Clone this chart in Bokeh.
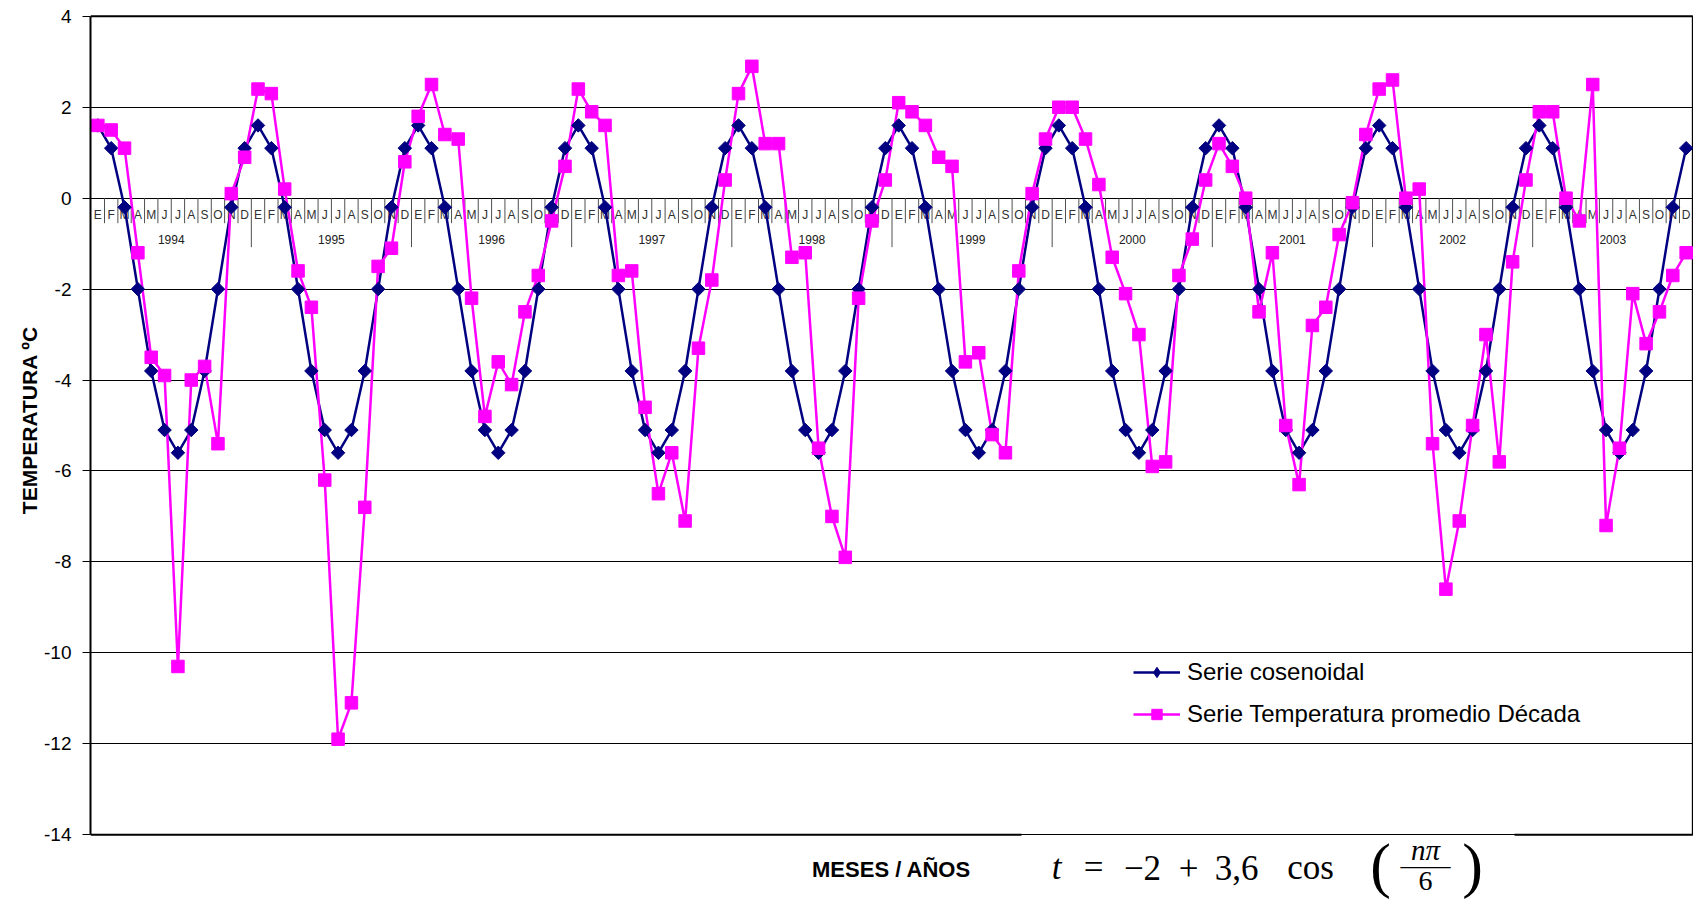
import math
from bokeh.plotting import figure
from bokeh.models import Range1d, FixedTicker, Legend, LegendItem
from bokeh.embed import file_html
from bokeh.resources import INLINE
from bokeh.core.properties import value

# ---------------- data ----------------
month_letters = ["E", "F", "M", "A", "M", "J", "J", "A", "S", "O", "N", "D"]
years = ["1994", "1995", "1996", "1997", "1998", "1999", "2000", "2001", "2002", "2003"]

serie_cosenoidal = [
    1.6, 1.1, -0.2, -2.0, -3.8, -5.1, -5.6, -5.1, -3.8, -2.0, -0.2, 1.1,
    1.6, 1.1, -0.2, -2.0, -3.8, -5.1, -5.6, -5.1, -3.8, -2.0, -0.2, 1.1,
    1.6, 1.1, -0.2, -2.0, -3.8, -5.1, -5.6, -5.1, -3.8, -2.0, -0.2, 1.1,
    1.6, 1.1, -0.2, -2.0, -3.8, -5.1, -5.6, -5.1, -3.8, -2.0, -0.2, 1.1,
    1.6, 1.1, -0.2, -2.0, -3.8, -5.1, -5.6, -5.1, -3.8, -2.0, -0.2, 1.1,
    1.6, 1.1, -0.2, -2.0, -3.8, -5.1, -5.6, -5.1, -3.8, -2.0, -0.2, 1.1,
    1.6, 1.1, -0.2, -2.0, -3.8, -5.1, -5.6, -5.1, -3.8, -2.0, -0.2, 1.1,
    1.6, 1.1, -0.2, -2.0, -3.8, -5.1, -5.6, -5.1, -3.8, -2.0, -0.2, 1.1,
    1.6, 1.1, -0.2, -2.0, -3.8, -5.1, -5.6, -5.1, -3.8, -2.0, -0.2, 1.1,
    1.6, 1.1, -0.2, -2.0, -3.8, -5.1, -5.6, -5.1, -3.8, -2.0, -0.2, 1.1,
]

serie_temperatura = [
    1.6, 1.5, 1.1, -1.2, -3.5, -3.9, -10.3, -4.0, -3.7, -5.4, 0.1, 0.9,      # 1994
    2.4, 2.3, 0.2, -1.6, -2.4, -6.2, -11.9, -11.1, -6.8, -1.5, -1.1, 0.8,    # 1995
    1.8, 2.5, 1.4, 1.3, -2.2, -4.8, -3.6, -4.1, -2.5, -1.7, -0.5, 0.7,       # 1996
    2.4, 1.9, 1.6, -1.7, -1.6, -4.6, -6.5, -5.6, -7.1, -3.3, -1.8, 0.4,      # 1997
    2.3, 2.9, 1.2, 1.2, -1.3, -1.2, -5.5, -7.0, -7.9, -2.2, -0.5, 0.4,       # 1998
    2.1, 1.9, 1.6, 0.9, 0.7, -3.6, -3.4, -5.2, -5.6, -1.6, 0.1, 1.3,         # 1999
    2.0, 2.0, 1.3, 0.3, -1.3, -2.1, -3.0, -5.9, -5.8, -1.7, -0.9, 0.4,       # 2000
    1.2, 0.7, 0.0, -2.5, -1.2, -5.0, -6.3, -2.8, -2.4, -0.8, -0.1, 1.4,      # 2001
    2.4, 2.6, 0.0, 0.2, -5.4, -8.6, -7.1, -5.0, -3.0, -5.8, -1.4, 0.4,       # 2002
    1.9, 1.9, 0.0, -0.5, 2.5, -7.2, -5.5, -2.1, -3.2, -2.5, -1.7, -1.2,      # 2003
]

y_ticks = [4, 2, 0, -2, -4, -6, -8, -10, -12, -14]
y_tick_labels = ["4", "2", "0", "-2", "-4", "-6", "-8", "-10", "-12", "-14"]

# ---------------- geometry ----------------
W, H = 1693, 901
ML, MR, MT, MB = 90, 0, 14, 0
PXY = 45.465                       # pixels per degree
X0, X1 = -0.55, len(serie_temperatura) - 0.45
Y1 = max(y_ticks) + 0.04
FW, FH = W - ML - MR, H - MT - MB
Y0 = Y1 - FH / PXY                 # frame reaches the page bottom (room for the formula)
PXX = FW / (X1 - X0)


def dx(px):
    """page pixel x -> data x"""
    return X0 + (px - ML) / PXX


def dy(py):
    """page pixel y -> data y"""
    return Y1 - (py - MT) / PXY


p = figure(width=W, height=H, output_backend="svg", toolbar_location=None,
           x_range=Range1d(X0, X1), y_range=Range1d(Y0, Y1),
           x_axis_location=None,
           min_border_left=ML, min_border_right=MR,
           min_border_top=MT, min_border_bottom=MB)
p.outline_line_color = None
p.background_fill_color = "white"
p.border_fill_color = "white"
p.xgrid.visible = False

FONT = "Liberation Sans"

# y axis
ax = p.yaxis[0]
ax.ticker = FixedTicker(ticks=y_ticks)
ax.major_label_overrides = {t: lab for t, lab in zip(y_ticks, y_tick_labels)}
ax.bounds = (min(y_ticks), max(y_ticks))
ax.axis_line_width = 2
ax.axis_line_color = "black"
ax.major_tick_out = 8
ax.major_tick_in = 0
ax.major_tick_line_color = "black"
ax.minor_tick_line_color = None
ax.major_label_standoff = 11
ax.major_label_text_font = FONT
ax.major_label_text_font_size = "19px"
ax.major_label_text_color = "black"
# leading no-break spaces lift the centred title to the middle of the -14..4 span
ax.axis_label = "\u00a0" * 13 + "TEMPERATURA ºC"
ax.axis_label_text_font = FONT
ax.axis_label_text_font_style = "bold"
ax.axis_label_text_font_size = "21px"
ax.axis_label_text_color = "black"
ax.axis_label_standoff = 0

g = p.ygrid[0]
g.ticker = FixedTicker(ticks=y_ticks)
g.grid_line_color = "black"
g.grid_line_width = 1

# frame borders (top, right, bottom split around the formula)
xr = len(serie_temperatura) - 0.5
ytop, ybot = max(y_ticks), min(y_ticks)
p.segment(x0=[X0, xr, X0, dx(1514)], y0=[ytop, ybot, ybot, ybot],
          x1=[xr, xr, dx(1021), xr], y1=[ytop, ytop, ybot, ybot],
          line_color="black", line_width=2)

# category axis at y = 0 : month ticks, year separators, letters, years
n = len(serie_temperatura)
xs = list(range(n))
tick_x = [i + 0.5 for i in range(n - 1) if (i + 1) % 12 != 0]
year_x = [i + 0.5 for i in range(n - 1) if (i + 1) % 12 == 0]
p.segment(x0=tick_x, y0=[0] * len(tick_x), x1=tick_x, y1=[-25 / PXY] * len(tick_x),
          line_color="#505050", line_width=1)
p.segment(x0=year_x, y0=[0] * len(year_x), x1=year_x, y1=[-49 / PXY] * len(year_x),
          line_color="#505050", line_width=1)
p.text(x=xs, y=[-16.5 / PXY] * n, text=[month_letters[i % 12] for i in range(n)],
       text_font=value(FONT), text_font_size="12px", text_color="#303030",
       text_align="center", text_baseline="middle")
p.text(x=[12 * k + 5.5 for k in range(len(years))], y=[-41 / PXY] * len(years), text=years,
       text_font=value(FONT), text_font_size="12px", text_color="#202020",
       text_align="center", text_baseline="middle")

# series
NAVY, MAG = "#000080", "#FF00FF"
l1 = p.line(xs, serie_cosenoidal, line_color=NAVY, line_width=2.5)
l2 = p.line(xs, serie_temperatura, line_color=MAG, line_width=2.5)
m1 = p.scatter(xs, serie_cosenoidal, marker="square", angle=math.pi / 4, size=9.5,
               fill_color=NAVY, line_color=NAVY)
m2 = p.scatter(xs, serie_temperatura, marker="square", size=12.5,
               fill_color=MAG, line_color=MAG)
# legend-only diamond glyph (its single point is not drawable)
d1 = p.scatter(x=[float("nan")], y=[float("nan")], marker="diamond", size=16,
               fill_color=NAVY, line_color=NAVY)

lg = Legend(items=[LegendItem(label="Serie cosenoidal", renderers=[l1, d1]),
                   LegendItem(label="Serie Temperatura promedio Década", renderers=[l2, m2])])
lg.location = (1133 - ML, (MT + FH) - 728)
lg.padding = 0
lg.margin = 0
lg.spacing = 14
lg.glyph_width = 47
lg.glyph_height = 26
lg.label_height = 26
lg.label_standoff = 7
lg.border_line_color = None
lg.background_fill_alpha = 0
lg.label_text_font = FONT
lg.label_text_font_size = "24px"
lg.label_text_color = "black"
p.add_layout(lg)

# ---------------- x title and formula (below the -14 line) ----------------
p.text(x=[dx(891)], y=[dy(869)], text=["MESES / AÑOS"], text_font=value(FONT),
       text_font_style="bold", text_font_size="22px", text_color="black",
       text_align="center", text_baseline="middle")

SERIF = "Liberation Serif"
tokens = [
    ("t", 1056, 867, "italic", "35px"),
    ("=", 1093, 867, "normal", "35px"),
    ("−2", 1142, 867, "normal", "35px"),
    ("+", 1188, 867, "normal", "35px"),
    ("3,6", 1236, 867, "normal", "35px"),
    ("cos", 1310, 867, "normal", "35px"),
    ("(", 1380, 864, "normal", "62px"),
    ("nπ", 1425, 849, "italic", "29px"),
    ("——", 1425, 865, "normal", "25px"),
    ("6", 1425, 880, "normal", "28px"),
    (")", 1472, 864, "normal", "62px"),
]
for txt, px, py, style, size in tokens:
    p.text(x=[dx(px)], y=[dy(py)], text=[txt], text_font=value(SERIF),
           text_font_style=style, text_font_size=size, text_color="black",
           text_align="center", text_baseline="middle")

open("out.html", "w").write(file_html(p, INLINE))
